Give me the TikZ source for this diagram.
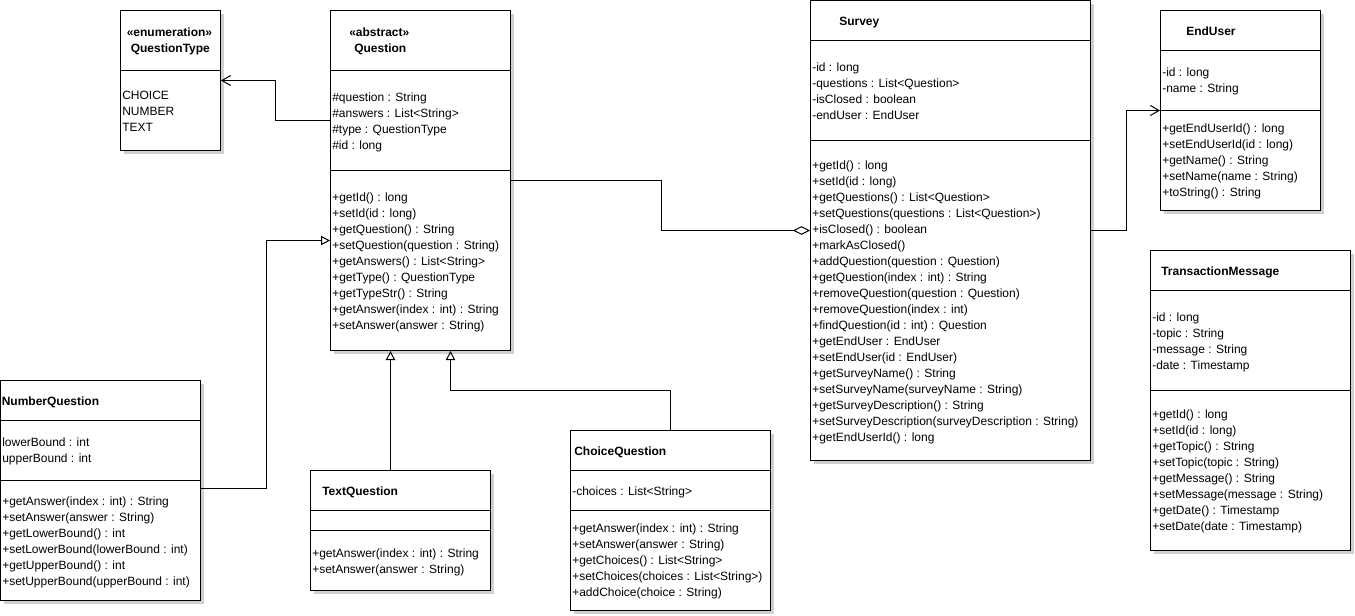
\documentclass[tikz,border=0pt]{standalone}
\usepackage{fontspec}
\setmainfont{Liberation Sans}
\usepackage{xcolor}
\usetikzlibrary{arrows.meta, positioning, fit, shadows}
\definecolor{umlShadow}{HTML}{D0D0D0}
\tikzset{
  classbox/.style={draw, line width=0.75pt, fill=white, inner sep=0pt,
    drop shadow={shadow xshift=2.4pt, shadow yshift=-2.4pt, fill=umlShadow, opacity=1}},
  member/.style={anchor=west, inner sep=0pt, text height=7pt, text depth=0.5pt,
    font=\fontsize{9}{11}\selectfont},
  ctitle/.style={member, font=\fontsize{9}{11}\selectfont\bfseries},
  divider/.style={line width=0.75pt},
  conn/.style={line width=0.75pt},
  inherit/.style={conn, -{Triangle[open, length=6.75pt, width=7pt, fill=white]}},
  depend/.style={conn, -{Straight Barb[length=6.5pt, width=7.5pt]}},
  aggreg/.style={conn, -{Diamond[open, length=12.75pt, width=6.5pt, fill=white]}},
}

\begin{document}
\begin{tikzpicture}[x=0.75pt, y=-0.75pt]
\useasboundingbox (0,0) rectangle (1355,615);

% QuestionType
\node[classbox, fit={(120.5,10.5) (220.5,150.5)}] (qtype) {};
\draw[divider] (qtype.west |- 0,70.5) -- (qtype.east |- 0,70.5);
\node[ctitle] (qtype-st) at (126.5,32.5) {«enumeration»};
\node[ctitle] (qtype-name) at (130.5,48.5) {QuestionType};
\foreach \t [count=\i from 0] in {CHOICE,NUMBER,TEXT}
  \node[member] (qtype-a\i) at (122, {94.7+16*\i}) {\t};

% Question
\node[classbox, fit={(330.5,10.5) (510.5,350.5)}] (question) {};
\draw[divider] (question.west |- 0,70.5) -- (question.east |- 0,70.5);
\draw[divider] (question.west |- 0,170.5) -- (question.east |- 0,170.5);
\node[ctitle] (question-st) at (349,32.5) {«abstract»};
\node[ctitle] (question-name) at (354,48.5) {Question};
\foreach \t [count=\i from 0] in {\#question : String, \#answers : List<String>,
    \#type : QuestionType, \#id : long}
  \node[member] (question-a\i) at (332, {96.7+16*\i}) {\t};
\foreach \t [count=\i from 0] in {+getId() : long, +setId(id : long),
    +getQuestion() : String, +setQuestion(question : String),
    +getAnswers() : List<String>, +getType() : QuestionType,
    +getTypeStr() : String, +getAnswer(index : int) : String,
    +setAnswer(answer : String)}
  \node[member] (question-m\i) at (332, {196.7+16*\i}) {\t};

% Survey
\node[classbox, fit={(810.5,0.5) (1090.5,460.5)}] (survey) {};
\draw[divider] (survey.west |- 0,40.5) -- (survey.east |- 0,40.5);
\draw[divider] (survey.west |- 0,140.5) -- (survey.east |- 0,140.5);
\node[ctitle] (survey-name) at (839,20.7) {Survey};
\foreach \t [count=\i from 0] in {-id : long, -questions : List<Question>,
    -isClosed : boolean, -endUser : EndUser}
  \node[member] (survey-a\i) at (812, {66.7+16*\i}) {\t};
\foreach \t [count=\i from 0] in {+getId() : long, +setId(id : long),
    +getQuestions() : List<Question>, +setQuestions(questions : List<Question>),
    +isClosed() : boolean, +markAsClosed(), +addQuestion(question : Question),
    +getQuestion(index : int) : String, +removeQuestion(question : Question),
    +removeQuestion(index : int), +findQuestion(id : int) : Question,
    +getEndUser : EndUser, +setEndUser(id : EndUser),
    +getSurveyName() : String, +setSurveyName(surveyName : String),
    +getSurveyDescription() : String,
    +setSurveyDescription(surveyDescription : String), +getEndUserId() : long}
  \node[member] (survey-m\i) at (812, {164.7+16*\i}) {\t};

% EndUser
\node[classbox, fit={(1160.5,10.5) (1320.5,210.5)}] (enduser) {};
\draw[divider] (enduser.west |- 0,50.5) -- (enduser.east |- 0,50.5);
\draw[divider] (enduser.west |- 0,110.5) -- (enduser.east |- 0,110.5);
\node[ctitle] (enduser-name) at (1186,31) {EndUser};
\foreach \t [count=\i from 0] in {-id : long, -name : String}
  \node[member] (enduser-a\i) at (1162, {71.7+16*\i}) {\t};
\foreach \t [count=\i from 0] in {+getEndUserId() : long, +setEndUserId(id : long),
    +getName() : String, +setName(name : String), +toString() : String}
  \node[member] (enduser-m\i) at (1162, {127.7+16*\i}) {\t};

% TransactionMessage
\node[classbox, fit={(1150.5,250.5) (1350.5,550.5)}] (transmsg) {};
\draw[divider] (transmsg.west |- 0,290.5) -- (transmsg.east |- 0,290.5);
\draw[divider] (transmsg.west |- 0,390.5) -- (transmsg.east |- 0,390.5);
\node[ctitle] (transmsg-name) at (1161,271) {TransactionMessage};
\foreach \t [count=\i from 0] in {-id : long, -topic : String,
    -message : String, -date : Timestamp}
  \node[member] (transmsg-a\i) at (1152, {316.7+16*\i}) {\t};
\foreach \t [count=\i from 0] in {+getId() : long, +setId(id : long),
    +getTopic() : String, +setTopic(topic : String), +getMessage() : String,
    +setMessage(message : String), +getDate() : Timestamp,
    +setDate(date : Timestamp)}
  \node[member] (transmsg-m\i) at (1152, {413.7+16*\i}) {\t};

% NumberQuestion
\node[classbox, fit={(0.5,380.5) (200.5,600.5)}] (numq) {};
\draw[divider] (numq.west |- 0,420.5) -- (numq.east |- 0,420.5);
\draw[divider] (numq.west |- 0,480.5) -- (numq.east |- 0,480.5);
\node[ctitle] (numq-name) at (1.5,401) {NumberQuestion};
\foreach \t [count=\i from 0] in {lowerBound : int, upperBound : int}
  \node[member] (numq-a\i) at (2, {441.7+16*\i}) {\t};
\foreach \t [count=\i from 0] in {+getAnswer(index : int) : String,
    +setAnswer(answer : String), +getLowerBound() : int,
    +setLowerBound(lowerBound : int), +getUpperBound() : int,
    +setUpperBound(upperBound : int)}
  \node[member] (numq-m\i) at (2, {500.7+16*\i}) {\t};

% TextQuestion
\node[classbox, fit={(310.5,470.5) (490.5,590.5)}] (textq) {};
\draw[divider] (textq.west |- 0,510.5) -- (textq.east |- 0,510.5);
\draw[divider] (textq.west |- 0,530.5) -- (textq.east |- 0,530.5);
\node[ctitle] (textq-name) at (322,491) {TextQuestion};
\foreach \t [count=\i from 0] in {+getAnswer(index : int) : String,
    +setAnswer(answer : String)}
  \node[member] (textq-m\i) at (312, {553.3+16*\i}) {\t};

% ChoiceQuestion
\node[classbox, fit={(570.5,430.5) (770.5,610.5)}] (choiceq) {};
\draw[divider] (choiceq.west |- 0,470.5) -- (choiceq.east |- 0,470.5);
\draw[divider] (choiceq.west |- 0,510.5) -- (choiceq.east |- 0,510.5);
\node[ctitle] (choiceq-name) at (574,451) {ChoiceQuestion};
\node[member] (choiceq-a0) at (572,491) {-choices : List<String>};
\foreach \t [count=\i from 0] in {+getAnswer(index : int) : String,
    +setAnswer(answer : String), +getChoices() : List<String>,
    +setChoices(choices : List<String>), +addChoice(choice : String)}
  \node[member] (choiceq-m\i) at (572, {528.3+16*\i}) {\t};

% connectors
\draw[depend] (question.west |- 0,120.5) -- ++(-55,0) |- (qtype.east |- 0,80.5);
\draw[inherit] (numq.east |- 0,488.5) -- ++(65,0) |- (question.west |- 0,240.5);
\draw[inherit] (textq.north -| 390.5,0) -- (question.south -| 390.5,0);
\draw[inherit] (choiceq.north -| 670.5,0) -- ++(0,-40) -| (question.south -| 450.5,0);
\draw[aggreg] (question.east |- 0,180.5) -- ++(150,0) |- (survey.west |- 0,230.5);
\draw[depend] (survey.east |- 0,230.5) -- ++(35,0) |- (enduser.west |- 0,110.5);
\end{tikzpicture}
\end{document}
